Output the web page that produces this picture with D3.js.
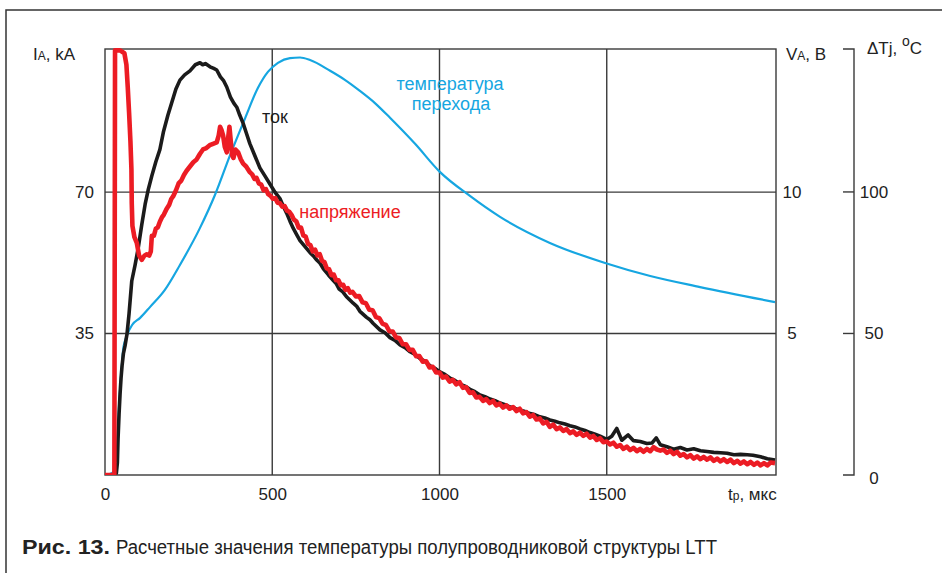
<!DOCTYPE html>
<html>
<head>
<meta charset="utf-8">
<script src="https://cdn.jsdelivr.net/npm/d3@7"></script>
<style>
  html, body { margin: 0; padding: 0; background: #fff; }
  svg { display: block; }
  text { font-family: "Liberation Sans", Arial, Helvetica, sans-serif; }
</style>
</head>
<body>
<svg id="chart" width="942" height="573"></svg>
<script>
// ---- data -------------------------------------------------------------
// time, µs
const xTicks = [0, 500, 1000, 1500];
const currentTicks = [35, 70];      // I_A, kA
const voltageTicks = [5, 10];       // V_A, V
const tempTicks = [0, 50, 100];     // ΔTj, °C

// anode current I_A (kA) vs time (µs)
const currentSeries = [
  [0,0],[30,0],[34,0.5],[37,3],[39,9],[42,15],[45,20],[48,24],[51,27],[55,30],[60,32],[66,35],
  [72,40],[80,48],[90,52],[99,56],[110,62],[120,67],[129,70.5],[140,74],[152,77.5],[164,80.5],
  [175,85],[188,89],[199,92],[212,95.5],[224,97.7],[238,99],[254,100],[270,101.5],[284,102],
  [292,101.5],[300,101.8],[314,101],[325,100.6],[334,100.2],[345,98.5],[355,97.5],[364,96],
  [375,93.5],[385,92],[394,91],[403,89],[413,87],[423,84.5],[433,82],[448,79],[463,76],[478,74],
  [493,72],[508,70],[523,68.4],[533,66.5],[543,64.8],[553,62.8],[563,61],[573,59.5],[583,58],
  [598,56.5],[613,55],[623,54.2],[633,53.2],[643,52.4],[653,51],[668,49.5],[682,48.2],[691,47.4],
  [700,46],[711,45.3],[722,44.1],[742,42.5],[752,41.8],[762,40.5],[782,39],[792,38.4],[802,37.5],
  [822,35.9],[837,35.2],[852,34],[867,33.3],[882,32.2],[897,31.5],[912,30.5],[927,29.8],[942,28.8],
  [957,28.1],[972,27],[987,26.4],[1001,25.5],[1016,24.9],[1031,24],[1046,23.4],[1061,22.5],
  [1076,22],[1091,21.2],[1106,20.6],[1121,19.8],[1136,19.4],[1151,18.8],[1166,18.4],[1181,17.8],
  [1196,17.4],[1211,16.8],[1226,16.5],[1241,16],[1256,15.7],[1271,15.2],[1286,14.9],[1300,14.4],
  [1315,14.1],[1330,13.6],[1345,13.3],[1360,12.9],[1375,12.6],[1390,12.2],[1405,11.9],[1420,11.4],
  [1435,11.0],[1450,10.5],[1465,10.1],[1480,9.6],[1500,8.8],[1515,9.6],[1530,11.5],[1545,8.6],
  [1564,9.9],[1580,8.5],[1600,8.3],[1620,7.8],[1635,7.9],[1648,9.2],[1660,7.5],[1680,7.0],
  [1700,6.4],[1720,6.8],[1740,6.2],[1760,6.5],[1780,6.0],[1800,5.8],[1820,5.6],[1840,5.5],
  [1860,5.4],[1880,5.0],[1900,5.1],[1920,5.0],[1937,4.9],[1960,4.5],[1980,4.0],[2003,3.7]
];

// anode voltage V_A (V) vs time (µs)
const voltageSeries = [
  [0,0],[28,0],[30,15.0],[45,15.0],[58,14.9],[64,14.5],[68,13.7],[72,12.8],[76,11.8],[79,10.8],
  [80,9.6],[82,8.8],[88,8.4],[95,8.2],[102,7.75],[110,7.6],[118,7.75],[125,7.8],[132,7.75],
  [137,7.9],[140,8.45],[146,8.45],[152,8.7],[158,8.75],[164,8.95],[170,9.1],[176,9.2],[184,9.4],
  [192,9.55],[198,9.75],[204,9.85],[212,10.05],[220,10.3],[228,10.4],[236,10.6],[244,10.75],
  [254,10.9],[264,11.05],[274,11.15],[284,11.35],[293,11.5],[303,11.55],[313,11.65],[323,11.7],
  [334,11.75],[340,12.0],[344,12.3],[348,12.2],[353,12.0],[358,11.6],[364,11.4],[368,11.9],
  [372,12.3],[376,11.8],[380,11.3],[384,11.2],[390,11.5],[398,11.4],[406,11.15],[413,11.0],
  [422,10.9],[433,10.7],[440,10.62],[447,10.46],[453,10.5],[460,10.3],[467,10.26],[474,10.06],
  [481,10.1],[488,9.92],[495,9.86],[502,9.76],[509,9.78],[516,9.62],[523,9.6],[530,9.48],
  [537,9.5],[544,9.34],[551,9.3],[558,9.18],[565,9.02],[572,8.96],[579,8.74],[586,8.74],
  [593,8.46],[600,8.42],[607,8.16],[614,8.12],[621,7.9],[628,7.96],[635,7.76],[642,7.8],
  [649,7.56],[656,7.52],[663,7.3],[670,7.27],[677,7.06],[684,7.08],[691,6.88],[698,6.88],
  [705,6.7],[712,6.72],[719,6.54],[726,6.6],[733,6.44],[740,6.47],[750,6.31],[760,6.32],
  [770,6.1],[780,6.07],[790,5.84],[800,5.82],[810,5.58],[820,5.54],[830,5.34],[840,5.3],
  [850,5.08],[860,5.07],[870,4.86],[880,4.84],[890,4.62],[900,4.62],[910,4.42],[920,4.42],
  [930,4.2],[940,4.2],[950,4.0],[960,4.02],[970,3.8],[980,3.82],[990,3.62],[1000,3.62],
  [1010,3.44],[1020,3.48],[1030,3.3],[1040,3.36],[1050,3.2],[1060,3.28],[1070,3.08],[1080,3.1],
  [1090,2.9],[1100,2.92],[1110,2.74],[1120,2.76],[1130,2.62],[1140,2.68],[1150,2.54],[1160,2.62],
  [1170,2.46],[1180,2.52],[1190,2.38],[1200,2.46],[1210,2.34],[1220,2.4],[1230,2.26],[1240,2.34],
  [1250,2.18],[1260,2.22],[1270,2.06],[1280,2.12],[1290,1.96],[1300,2.0],[1310,1.82],[1320,1.88],
  [1330,1.7],[1340,1.78],[1350,1.62],[1360,1.68],[1370,1.56],[1380,1.62],[1390,1.48],[1400,1.54],
  [1410,1.42],[1420,1.5],[1430,1.38],[1440,1.46],[1450,1.32],[1460,1.38],[1470,1.24],[1480,1.3],
  [1490,1.16],[1500,1.18],[1510,1.08],[1520,1.14],[1530,1.0],[1540,1.06],[1550,0.92],[1560,1.0],
  [1570,0.88],[1580,0.96],[1590,0.84],[1600,0.92],[1610,0.82],[1620,0.92],[1630,0.84],
  [1640,0.98],[1650,0.9],[1660,0.86],[1670,0.9],[1680,0.78],[1690,0.86],[1700,0.74],[1710,0.82],
  [1720,0.68],[1730,0.74],[1740,0.62],[1750,0.7],[1760,0.58],[1770,0.66],[1780,0.56],[1790,0.64],
  [1800,0.54],[1810,0.62],[1820,0.5],[1830,0.58],[1840,0.48],[1850,0.56],[1860,0.46],[1870,0.54],
  [1880,0.42],[1890,0.5],[1900,0.4],[1910,0.48],[1920,0.38],[1930,0.46],[1940,0.36],[1950,0.44],
  [1960,0.34],[1970,0.42],[1980,0.34],[1990,0.44],[2003,0.42]
];

// junction temperature rise ΔTj (°C) vs time (µs)
const tempSeries = [
  [0,0],[20,0.6],[30,2],[35,5],[38,12],[41,22],[45,30],[50,38],[54,44],[60,47.5],[66,49.5],
  [81,53],[105,55.5],[135,59.4],[179,65.4],[224,74.2],[284,87.3],[329,99],[374,113],[419,126.1],
  [457,136.7],[487,142.4],[517,145.6],[553,147.3],[583,147.5],[613,146.6],[673,142.8],
  [717,139.6],[762,135.7],[807,131.4],[852,126.2],[927,117],[1001,107.1],[1091,98.6],
  [1181,91.2],[1330,82],[1495,74.9],[1630,70.3],[1779,66.4],[2003,61.1]
];

// ---- layout -----------------------------------------------------------
const svg = d3.select("#chart");
const plot = { left: 105, right: 776, top: 49, bottom: 475 };

const x = d3.scaleLinear().domain([0, 2006]).range([plot.left, plot.right]);
const yI = d3.scaleLinear().domain([0, 105.4]).range([plot.bottom, plot.top]);
const yV = d3.scaleLinear().domain([0, 15.05]).range([plot.bottom, plot.top]);
const yT = d3.scaleLinear().domain([0, 150.5]).range([plot.bottom, plot.top]);

const gridColor = "#3a3a3a";
const textColor = "#222";
const blue = "#16a6e1", red = "#ec1c24", black = "#1b1b1b";

// outer figure frame (top and left edges)
svg.append("path")
  .attr("d", "M6,573V10H942")
  .attr("fill", "none").attr("stroke", "#333").attr("stroke-width", 1.5);

// grid lines
const grid = svg.append("g").attr("stroke", gridColor).attr("stroke-width", 1.4);
xTicks.filter(d => d > 0).forEach(d => {
  grid.append("line").attr("x1", x(d)).attr("x2", x(d))
    .attr("y1", plot.top).attr("y2", plot.bottom);
});
currentTicks.forEach(d => {
  grid.append("line").attr("x1", plot.left).attr("x2", plot.right)
    .attr("y1", yI(d)).attr("y2", yI(d));
});

// plot border
svg.append("rect")
  .attr("x", plot.left).attr("y", plot.top)
  .attr("width", plot.right - plot.left).attr("height", plot.bottom - plot.top)
  .attr("fill", "none").attr("stroke", gridColor).attr("stroke-width", 1.4);

// curves
svg.append("defs").append("clipPath").attr("id", "clip")
  .append("rect").attr("x", plot.left).attr("y", plot.top - 4)
  .attr("width", plot.right - plot.left).attr("height", plot.bottom - plot.top + 4);

const curves = svg.append("g").attr("clip-path", "url(#clip)");

const lineT = d3.line().x(d => x(d[0])).y(d => yT(d[1])).curve(d3.curveMonotoneX);
const lineI = d3.line().x(d => x(d[0])).y(d => yI(d[1]));
const lineV = d3.line().x(d => x(d[0])).y(d => yV(d[1]));

curves.append("path").datum(tempSeries).attr("d", lineT)
  .attr("fill", "none").attr("stroke", blue).attr("stroke-width", 2.2);
curves.append("path").datum(currentSeries).attr("d", lineI)
  .attr("fill", "none").attr("stroke", black).attr("stroke-width", 3.6)
  .attr("stroke-linejoin", "round");
curves.append("path").datum(voltageSeries).attr("d", lineV)
  .attr("fill", "none").attr("stroke", red).attr("stroke-width", 4.6)
  .attr("stroke-linejoin", "round");

// ---- axes -------------------------------------------------------------
const tickFont = 17;

// time axis labels
const xAxis = d3.axisBottom(x).tickValues(xTicks).tickFormat(d3.format("d"))
  .tickSize(0).tickPadding(13);
const gx = svg.append("g").attr("transform", `translate(0,${plot.bottom})`).call(xAxis);
gx.select(".domain").remove();
gx.selectAll("text").attr("font-size", tickFont).attr("fill", textColor)
  .attr("font-family", "Liberation Sans, Arial, sans-serif");

// current axis labels (left)
const iAxis = d3.axisLeft(yI).tickValues(currentTicks).tickSize(0).tickPadding(11);
const gi = svg.append("g").attr("transform", `translate(${plot.left},0)`).call(iAxis);
gi.select(".domain").remove();
gi.selectAll("text").attr("font-size", tickFont).attr("fill", textColor)
  .attr("font-family", "Liberation Sans, Arial, sans-serif");

// voltage axis labels (plot right edge)
const gv = svg.append("g");
voltageTicks.forEach(d => {
  gv.append("text").attr("x", 792).attr("y", yV(d)).attr("dy", "0.35em")
    .attr("text-anchor", "middle").attr("font-size", tickFont).attr("fill", textColor).text(d);
});

// temperature axis (separate, further right)
const tAxisX = 854;
const gt = svg.append("g");
gt.append("path")
  .attr("d", `M${tAxisX - 11},${plot.top}H${tAxisX}V${plot.bottom}H${tAxisX - 11}`)
  .attr("fill", "none").attr("stroke", gridColor).attr("stroke-width", 1.4);
tempTicks.forEach(d => {
  if (d > 0) {
    gt.append("line").attr("x1", tAxisX - 11).attr("x2", tAxisX)
      .attr("y1", yT(d)).attr("y2", yT(d))
      .attr("stroke", gridColor).attr("stroke-width", 1.4);
  }
  gt.append("text").attr("x", 874).attr("y", yT(d) + (d === 0 ? 3 : 0)).attr("dy", "0.35em")
    .attr("text-anchor", "middle").attr("font-size", tickFont).attr("fill", textColor).text(d);
});

// axis titles
const titleI = svg.append("text").attr("x", 33).attr("y", 60).attr("font-size", 17).attr("fill", textColor);
titleI.append("tspan").text("I");
titleI.append("tspan").attr("font-size", 12).text("A");
titleI.append("tspan").text(", kA");

const titleV = svg.append("text").attr("x", 786).attr("y", 60).attr("font-size", 17).attr("fill", textColor);
titleV.append("tspan").text("V");
titleV.append("tspan").attr("font-size", 12).text("A");
titleV.append("tspan").text(", B");

const titleT = svg.append("text").attr("x", 867).attr("y", 54).attr("font-size", 17).attr("fill", textColor);
titleT.append("tspan").text("ΔTj, ");
titleT.append("tspan").attr("font-size", 14).attr("dy", -8).text("o");
titleT.append("tspan").attr("dy", 8).text("C");

const titleX = svg.append("text").attr("x", 728).attr("y", 500).attr("font-size", 17).attr("fill", textColor);
titleX.append("tspan").text("t");
titleX.append("tspan").attr("font-size", 12).text("p");
titleX.append("tspan").text(", мкс");

// curve annotations
const noteFont = 18;
svg.append("text").attr("x", 275).attr("y", 123).attr("text-anchor", "middle")
  .attr("font-size", noteFont).attr("fill", black).text("ток");
svg.append("text").attr("x", 450).attr("y", 90).attr("text-anchor", "middle")
  .attr("font-size", noteFont).attr("fill", blue).text("температура");
svg.append("text").attr("x", 451).attr("y", 110).attr("text-anchor", "middle")
  .attr("font-size", noteFont).attr("fill", blue).text("перехода");
svg.append("text").attr("x", 350).attr("y", 218).attr("text-anchor", "middle")
  .attr("font-size", noteFont).attr("fill", red).text("напряжение");

// caption
svg.append("text").attr("x", 22).attr("y", 554)
  .attr("font-size", 20).attr("font-weight", "bold").attr("fill", textColor)
  .attr("font-family", "Liberation Sans Narrow, Liberation Sans, Arial, sans-serif")
  .attr("textLength", 88).attr("lengthAdjust", "spacingAndGlyphs")
  .text("Рис. 13.");
svg.append("text").attr("x", 116).attr("y", 554)
  .attr("font-size", 20).attr("fill", textColor)
  .attr("font-family", "Liberation Sans Narrow, Liberation Sans, Arial, sans-serif")
  .attr("textLength", 601).attr("lengthAdjust", "spacingAndGlyphs")
  .text("Расчетные значения температуры полупроводниковой структуры LTT");
</script>
</body>
</html>
